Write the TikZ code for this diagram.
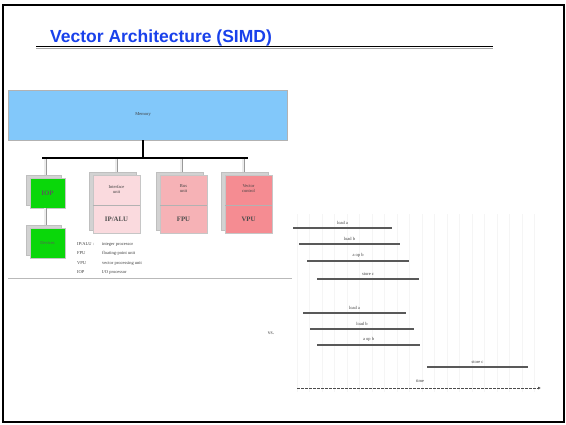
\documentclass[tikz,border=0pt]{standalone}
\usepackage{fontspec}
\setmainfont{Liberation Serif}
\newfontfamily\titlefont{Liberation Sans}
\usetikzlibrary{arrows.meta,shadows}

\definecolor{titleblue}{RGB}{25,65,235}
\definecolor{memblue}{RGB}{130,200,250}
\definecolor{unitgreen}{RGB}{10,215,10}
\definecolor{pinkA}{RGB}{250,218,222}
\definecolor{pinkB}{RGB}{246,178,182}
\definecolor{pinkC}{RGB}{245,140,146}

\tikzset{
  tinytext/.style={font=\fontsize{4.5}{5}\selectfont, inner sep=0pt, text=black!75},
  unitlabel/.style={font=\bfseries\fontsize{6.8}{7}\selectfont, inner sep=0pt, text=black!70},
  drop/.style={draw=gray!80, double=gray!15, double distance=1.8pt, line width=0.6pt},
  cube/.style={draw=gray!45, line width=0.3pt, inner sep=0pt,
    copy shadow={shadow xshift=-4pt, shadow yshift=3pt, fill=gray!35, draw=gray!50}},
  stepline/.style={draw=black!65, line width=1.1pt},
  gridline/.style={draw=gray!8, line width=0.4pt},
}

\begin{document}
\begin{tikzpicture}[x=1pt,y=-1pt]
\useasboundingbox (0,0) rectangle (566,424);
\fill[white] (0,0) rectangle (566,424);
\draw[line width=2pt] (2.5,5) rectangle (564,422);

% title
\node[anchor=base west, inner sep=0pt, text=titleblue,
  font=\titlefont\bfseries\fontsize{17.5}{20}\selectfont] (title) at (50,42) {Vector Architecture (SIMD)};
\coordinate (ruleL) at (36,46.3);
\coordinate (ruleR) at (493,46.3);
\draw[line width=1.2pt] (ruleL) -- (ruleR);
\draw[gray!70, line width=0.8pt] ([yshift=-2.5pt]ruleL) -- ([yshift=-2.5pt]ruleR);

% memory and bus
\node[draw=gray!60, fill=memblue, minimum width=279pt, minimum height=50pt, inner sep=0pt] (memory) at (147.5,115) {};
\node[tinytext] (memlabel) at (143,115) {Memory};
\coordinate (stem) at (143,158);
\coordinate (busL) at (42,158);
\coordinate (busR) at (248,158);
\draw[line width=1.3pt] (memory.south -| stem) -- (stem);
\draw[line width=1.3pt] (busL) -- (busR);
\coordinate (bus1) at (45,159);
\coordinate (bus2) at (116,159);
\coordinate (bus3) at (181,159);
\coordinate (bus4) at (243,159);

% green units
\node[cube, fill=unitgreen, minimum width=35pt, minimum height=30pt] (iop) at (47.5,193) {};
\node[cube, fill=unitgreen, minimum width=35pt, minimum height=30pt] (dev) at (47.5,243) {};
\node[unitlabel, text=black!65] at (iop) {IOP};
\node[tinytext, text=black!65] at (dev) {Devices};
\draw[drop] (bus1) -- ([yshift=3pt]bus1 |- iop.north);
\draw[drop] (iop.south -| bus1) -- ([yshift=3pt]dev.north -| bus1);

% pink units
\node[cube, fill=pinkA, minimum width=47pt, minimum height=58pt] (ipu) at (116.5,204) {};
\node[cube, fill=pinkB, minimum width=47pt, minimum height=58pt] (fpu) at (183.5,204) {};
\node[cube, fill=pinkC, minimum width=47pt, minimum height=58pt] (vpu) at (248.5,204) {};
\draw[gray!60] (ipu.west |- 0,205) -- (ipu.east |- 0,205);
\draw[gray!60] (fpu.west |- 0,205) -- (fpu.east |- 0,205);
\draw[gray!60] (vpu.west |- 0,205) -- (vpu.east |- 0,205);
\node[tinytext, align=center] at (116.5,189) {Interface\\unit};
\node[tinytext, align=center] at (183.5,189) {Bus\\unit};
\node[tinytext, align=center] at (248.5,189) {Vector\\control};
\node[unitlabel] at (116.5,219) {IP/ALU};
\node[unitlabel] at (183.5,219) {FPU};
\node[unitlabel] at (248.5,219) {VPU};
\draw[drop] (bus2) -- ([yshift=3pt]bus2 |- ipu.north);
\draw[drop] (bus3) -- ([yshift=3pt]bus3 |- fpu.north);
\draw[drop] (bus4) -- ([yshift=3pt]bus4 |- vpu.north);

% legend
\node[tinytext, anchor=west] at (77,244) {IP/ALU :};
\node[tinytext, anchor=west] at (77,253) {FPU};
\node[tinytext, anchor=west] at (77,263) {VPU};
\node[tinytext, anchor=west] at (77,272) {IOP};
\node[tinytext, anchor=west] at (102,244) {integer processor};
\node[tinytext, anchor=west] at (102,253) {floating-point unit};
\node[tinytext, anchor=west] at (102,263) {vector processing unit};
\node[tinytext, anchor=west] at (102,272) {I/O processor};
\draw[gray!55, line width=0.7pt] (8,278) -- (292,278);

% timing
\foreach \gx in {297,309.5,...,545} {
  \draw[gridline] (\gx,214) -- (\gx,392);
}
\coordinate (a1s) at (293,228);  \coordinate (a1e) at (392,228);
\coordinate (b1s) at (299,244);  \coordinate (b1e) at (400,244);
\coordinate (o1s) at (307,261);  \coordinate (o1e) at (409,261);
\coordinate (c1s) at (317,279);  \coordinate (c1e) at (419,279);
\draw[stepline] (a1s) -- node[tinytext, above=3pt] {load a} (a1e);
\draw[stepline] (b1s) -- node[tinytext, above=3pt] {load b} (b1e);
\draw[stepline] (o1s) -- node[tinytext, above=3pt] {a op b} (o1e);
\draw[stepline] (c1s) -- node[tinytext, above=3pt] {store c} (c1e);

\coordinate (a2s) at (303,313);  \coordinate (a2e) at (406,313);
\coordinate (b2s) at (310,329);  \coordinate (b2e) at (414,329);
\coordinate (o2s) at (317,345);  \coordinate (o2e) at (420,345);
\coordinate (c2s) at (427,367);  \coordinate (c2e) at (528,367);
\draw[stepline] (a2s) -- node[tinytext, above=3pt] {load a} (a2e);
\draw[stepline] (b2s) -- node[tinytext, above=3pt] {load b} (b2e);
\draw[stepline] (o2s) -- node[tinytext, above=3pt] {a op b} (o2e);
\draw[stepline] (c2s) -- node[tinytext, above=3pt] {store c} (c2e);
\node[tinytext, font=\fontsize{5.5}{6}\selectfont] (vs) at (271,333) {vs.};

\coordinate (t0) at (297,388);
\coordinate (t1) at (541,388);
\draw[black!70, line width=0.8pt, dash pattern=on 2.5pt off 1.5pt, -{Latex[length=3pt,width=3pt]}] (t0) -- (t1);
\node[tinytext] (timelabel) at (420,381) {time};
\end{tikzpicture}
\end{document}
